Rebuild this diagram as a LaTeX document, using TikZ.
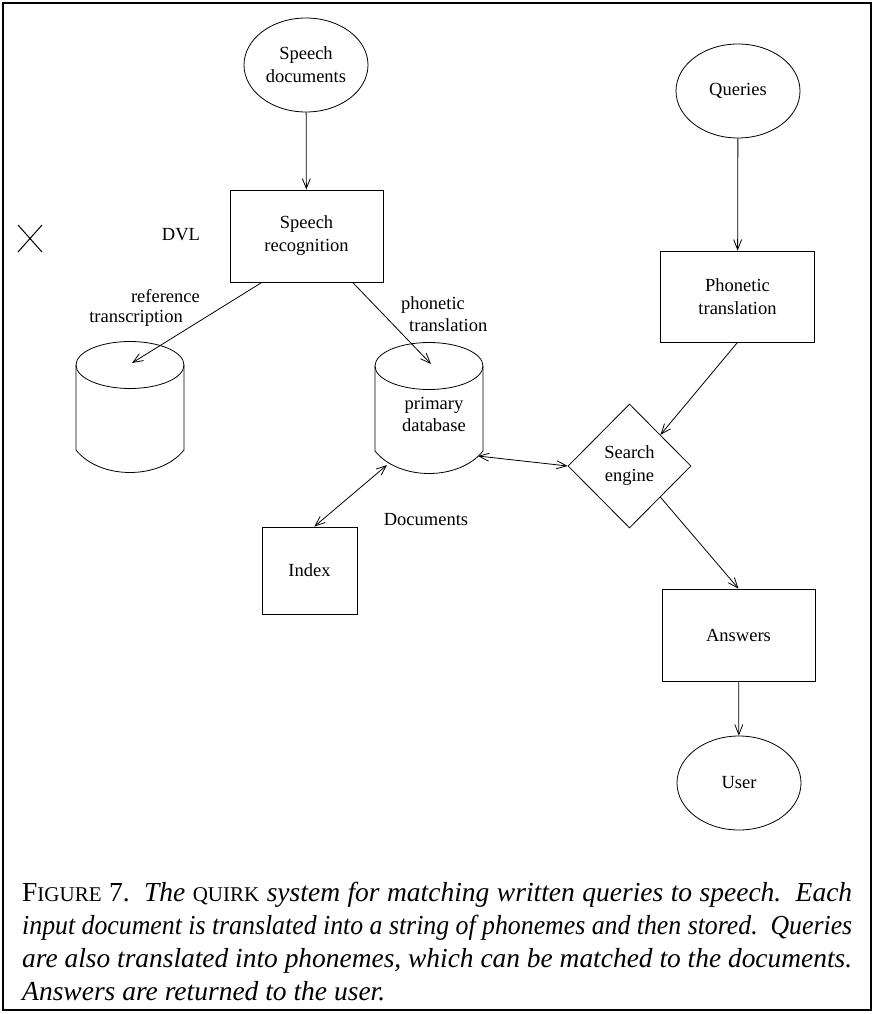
\documentclass[tikz,border=0pt]{standalone}
\usepackage{fontspec}
\setmainfont{Liberation Serif}
\usepackage{graphicx}
\usetikzlibrary{shapes.geometric,arrows.meta,calc}
\newbox\qcapbox
\def\qcapline#1{\setbox\qcapbox\hbox{#1}%
  \ifdim\wd\qcapbox>830pt \hbox{\resizebox{830pt}{\height}{\box\qcapbox}}%
  \else \hbox to 830pt{\unhbox\qcapbox}\fi}
\begin{document}
\begin{tikzpicture}[x=1pt,y=-1pt,
  lbl/.style={font=\fontsize{18.5}{23}\selectfont, align=center, inner sep=0pt},
  ell/.style={ellipse, draw, line width=0.8pt, minimum width=124pt, minimum height=94pt, lbl},
  box/.style={rectangle, draw, line width=0.8pt, lbl},
  conn/.style={line width=0.8pt, -{Straight Barb[length=10pt,width=8pt]}},
  biconn/.style={line width=0.8pt, {Straight Barb[length=10pt,width=8pt]}-{Straight Barb[length=10pt,width=8pt]}},
  dbcyl/.pic={
    \draw[line width=0.8pt] (0,0) ellipse [x radius=54, y radius=23.5];
    \draw[line width=0.8pt] (-54,0) -- (-54,85) .. controls (-30,115) and (30,115) .. (54,85) -- (54,0);
    \coordinate (-top) at (2,-2);
    \coordinate (-r) at (49,90);
    \coordinate (-bl) at (-42,99);
  }]
\useasboundingbox (0,0) rectangle (874,1014);
\draw[line width=2pt] (3,3) rectangle (871,1010);

% left column
\node[ell] (sd) at (306,65) {Speech\\documents};
\node[box, minimum width=153pt, minimum height=92pt] (sr) at (306.5,236) {Speech\\recognition};
\node[lbl] (dvl) at (181,235) {DVL};
\draw[line width=1pt] (18,225) -- (42,252) (18,252) -- (42,225);
\node[lbl, font=\fontsize{18.5}{20.5}\selectfont, align=right, anchor=east] (rt) at (200,308) {reference\\transcription\hspace*{17pt}};
\node[lbl, font=\fontsize{18.5}{22}\selectfont, align=left, anchor=west] (ptl) at (401,314) {phonetic\\\hspace*{8pt}translation};

\pic (cl) at (130,365) {dbcyl};
\pic (cm) at (429,366) {dbcyl};
\node[lbl, font=\fontsize{18.5}{22}\selectfont] (pdb) at (434,414) {primary\\database};
\node[lbl] (docs) at (426,520) {Documents};
\node[box, minimum width=95pt, minimum height=87pt] (ix) at (309.5,570.5) {Index};

% right column
\node[ell] (qu) at (738,91) {Queries};
\node[box, minimum width=154pt, minimum height=91pt] (pt) at (737.5,296.5) {Phonetic\\translation};
\node[diamond, draw, line width=0.8pt, minimum width=123pt, minimum height=124pt, lbl] (se) at (629.5,466) {Search\\engine};
\node[box, minimum width=153pt, minimum height=92pt] (ans) at (738.5,635) {Answers};
\node[ell] (us) at (739,783) {User};

% connectors
\draw[conn] (sd) -- (sr);
\draw[conn] ($(sr.south west)!0.21!(sr.south east)$) -- (cl-top);
\draw[conn] ($(sr.south west)!0.80!(sr.south east)$) -- (cm-top);
\draw[conn] (qu) -- (pt);
\draw[conn] (pt.south) -- (se.north east);
\draw[biconn] (cm-r) -- (se.west);
\draw[biconn] (cm-bl) -- ($(ix.north west)!0.55!(ix.north east)$);
\draw[conn] (se.south east) -- (ans.north);
\draw[conn] (ans) -- (us);

% caption
\node[anchor=base west, inner sep=0pt] (cap) at (22,901) {\vtop{%
  \fontsize{27.5}{33}\selectfont\itshape
  \hsize=830pt \parindent=0pt \baselineskip=33pt \lineskip=0pt \lineskiplimit=-100pt
  \spaceskip=0.25em plus 0.4em minus 0.05em
  \xspaceskip=0.5em plus 0.4em minus 0.05em
  \qcapline{{\upshape F{\fontsize{21}{24}\selectfont IGURE} 7.} The {\upshape\fontsize{21}{24}\selectfont QUIRK} system for matching written queries to speech. Each}
  \qcapline{input document is translated into a string of phonemes and then stored. Queries}
  \qcapline{are also translated into phonemes, which can be matched to the documents.}
  \hbox{Answers are returned to the user.}}};
\end{tikzpicture}
\end{document}
